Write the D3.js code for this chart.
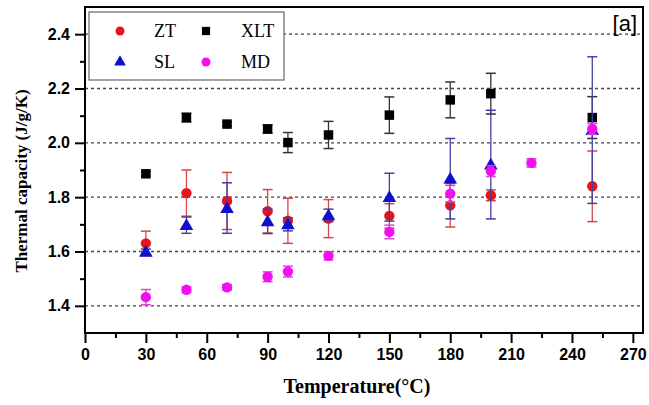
<!DOCTYPE html>
<html><head><meta charset="utf-8">
<script src="https://cdn.jsdelivr.net/npm/d3@7"></script>
<style>body{margin:0;background:#fff}svg{display:block}</style>
</head><body>
<svg id="c" width="649" height="405"></svg>
<script>
const temps = [30, 50, 70, 90, 100, 120, 150, 180, 200, 250];
const tempsMD = [30, 50, 70, 90, 100, 120, 150, 180, 200, 220, 250];
const ztValues = [1.630, 1.815, 1.786, 1.748, 1.713, 1.721, 1.731, 1.770, 1.807, 1.840];
const ztErrors = [0.045, 0.085, 0.105, 0.08, 0.083, 0.07, 0.045, 0.08, 0.02, 0.13];
const xltValues = [1.886, 2.093, 2.069, 2.051, 2.001, 2.029, 2.102, 2.158, 2.181, 2.093];
const xltErrors = [0.008, 0.016, 0.008, 0.015, 0.037, 0.05, 0.067, 0.066, 0.075, 0.077];
const slValues = [1.599, 1.697, 1.760, 1.711, 1.700, 1.733, 1.800, 1.868, 1.920, 2.047];
const slErrors = [0.01, 0.03, 0.093, 0.045, 0.024, 0.023, 0.088, 0.148, 0.2, 0.27];
const mdValues = [1.432, 1.459, 1.468, 1.507, 1.526, 1.584, 1.672, 1.813, 1.896, 1.926, 2.051];
const mdErrors = [0.028, 0.01, 0.01, 0.018, 0.02, 0.015, 0.025, 0.03, 0.02, 0.015, 0.02];
const xTicks = [0, 30, 60, 90, 120, 150, 180, 210, 240, 270];
const yTicks = [1.4, 1.6, 1.8, 2.0, 2.2, 2.4];

const svg = d3.select("#c");
const L = 85, R = 643, T = 7, B = 333;
const x = d3.scaleLinear().domain([0, 275]).range([L, R]);
const y = d3.scaleLinear().domain([1.3, 2.5]).range([B, T]);

// gridlines
svg.append("g").selectAll("line").data(yTicks).join("line")
  .attr("x1", L).attr("x2", R).attr("y1", d => y(d)).attr("y2", d => y(d))
  .attr("stroke", "#444").attr("stroke-width", 1.4).attr("stroke-dasharray", "3,3");

// axes
const xAxis = d3.axisBottom(x).tickValues(xTicks).tickSize(10).tickPadding(6).tickFormat(d3.format("d"));
const xMinor = d3.axisBottom(x).tickValues(d3.range(15, 275, 30)).tickSize(5).tickFormat("");
const yAxis = d3.axisLeft(y).tickValues(yTicks).tickSize(10).tickPadding(5).tickFormat(d3.format(".1f"));
const yMinor = d3.axisLeft(y).tickValues([1.5, 1.7, 1.9, 2.1, 2.3]).tickSize(5).tickFormat("");

function styleAxis(g) {
  g.select(".domain").remove();
  g.selectAll("line").attr("stroke", "#000").attr("stroke-width", 2);
  g.selectAll("text").attr("font-family", "Liberation Sans, Arial, sans-serif")
    .attr("font-weight", "bold").attr("font-size", 16).attr("fill", "#000");
}
svg.append("g").attr("transform", `translate(0,${B})`).call(xAxis).call(styleAxis);
svg.append("g").attr("transform", `translate(0,${B})`).call(xMinor).call(styleAxis);
svg.append("g").attr("transform", `translate(${L},0)`).call(yAxis).call(styleAxis);
svg.append("g").attr("transform", `translate(${L},0)`).call(yMinor).call(styleAxis);

// frame
svg.append("rect").attr("x", L).attr("y", T).attr("width", R - L).attr("height", B - T)
  .attr("fill", "none").attr("stroke", "#000").attr("stroke-width", 2);

// series
const series = [
  {name: "ZT", t: temps, v: ztValues, e: ztErrors, color: "#e8141c", ecolor: "#d04848", sym: d3.symbolCircle, size: 85},
  {name: "XLT", t: temps, v: xltValues, e: xltErrors, color: "#000", ecolor: "#333", sym: d3.symbolSquare, size: 90},
  {name: "SL", t: temps, v: slValues, e: slErrors, color: "#1010cc", ecolor: "#4040a8", sym: d3.symbolTriangle, size: 80},
  {name: "MD", t: tempsMD, v: mdValues, e: mdErrors, color: "#f010f0", ecolor: "#e040e0", sym: d3.symbolCircle, size: 85}
];

series.forEach(s => {
  const data = s.t.map((t, i) => ({t, v: s.v[i], e: s.e[i]}));
  const g = svg.append("g");
  const eb = g.selectAll("g.eb").data(data).join("g");
  eb.append("line").attr("x1", d => x(d.t)).attr("x2", d => x(d.t))
    .attr("y1", d => y(d.v - d.e)).attr("y2", d => y(d.v + d.e))
    .attr("stroke", s.ecolor).attr("stroke-width", 1.3);
  [-1, 1].forEach(k => {
    eb.append("line").attr("x1", d => x(d.t) - 5).attr("x2", d => x(d.t) + 5)
      .attr("y1", d => y(d.v + k * d.e)).attr("y2", d => y(d.v + k * d.e))
      .attr("stroke", s.ecolor).attr("stroke-width", 1.5);
  });
  g.selectAll("path").data(data).join("path")
    .attr("d", d3.symbol().type(s.sym).size(s.size))
    .attr("transform", d => `translate(${x(d.t)},${y(d.v) + (s.sym === d3.symbolTriangle ? 1 : 0)})`)
    .attr("fill", s.color);
});

// legend
const lg = svg.append("g");
lg.append("rect").attr("x", 89).attr("y", 12).attr("width", 195).attr("height", 68)
  .attr("fill", "#fff").attr("stroke", "#666").attr("stroke-width", 1.2);
const legendPos = [
  {s: series[0], mx: 120, my: 31, tx: 154},
  {s: series[1], mx: 206, my: 31, tx: 241},
  {s: series[2], mx: 120, my: 62, tx: 154},
  {s: series[3], mx: 206, my: 62, tx: 241}
];
legendPos.forEach(p => {
  lg.append("path").attr("d", d3.symbol().type(p.s.sym).size(p.s.size * 0.75)())
    .attr("transform", `translate(${p.mx},${p.my})`).attr("fill", p.s.color);
  lg.append("text").attr("x", p.tx).attr("y", p.my + 6).text(p.s.name)
    .attr("font-family", "Liberation Serif, Times New Roman, serif").attr("font-size", 18).attr("fill", "#000");
});

// panel label
svg.append("text").attr("x", 637).attr("y", 31).attr("text-anchor", "end").text("[a]")
  .attr("font-family", "Liberation Sans, Arial, sans-serif").attr("font-size", 22).attr("fill", "#000");

// axis titles
svg.append("text").attr("transform", "translate(27,181) rotate(-90)").attr("text-anchor", "middle")
  .text("Thermal capacity (J/g/K)")
  .attr("font-family", "Liberation Serif, Times New Roman, serif").attr("font-weight", "bold")
  .attr("font-size", 17).attr("fill", "#000");
svg.append("text").attr("x", 357).attr("y", 393).attr("text-anchor", "middle")
  .text("Temperature(°C)")
  .attr("font-family", "Liberation Serif, Times New Roman, serif").attr("font-weight", "bold")
  .attr("font-size", 20).attr("fill", "#000");
</script>
</body></html>
